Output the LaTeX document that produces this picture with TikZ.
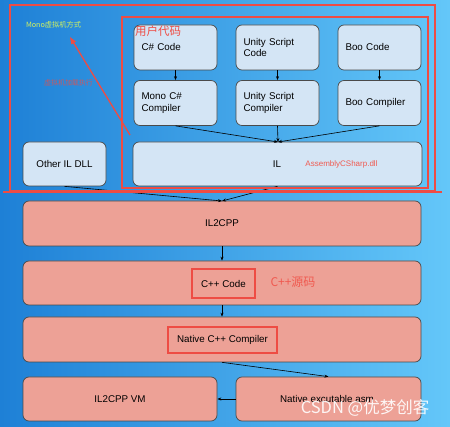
\documentclass[tikz,border=0pt]{standalone}
\usepackage{fontspec}
\setmainfont{Liberation Sans}
\newfontfamily\cjk{Noto Sans CJK SC}
\usetikzlibrary{arrows.meta}
\definecolor{bgleft}{HTML}{1E80D6}
\definecolor{bgright}{HTML}{64C7F9}
\definecolor{bluefill}{HTML}{D4E5F5}
\definecolor{pinkfill}{HTML}{EDA196}
\definecolor{boxline}{HTML}{4A4A4A}
\definecolor{redline}{HTML}{EE4C44}
\definecolor{redtext}{HTML}{F05A50}
\definecolor{monogreen}{HTML}{D2F25E}
\begin{document}
\begin{tikzpicture}[x=1pt,y=-1pt,
  box/.style={draw=boxline,line width=0.7pt,rounded corners=6pt,font=\fontsize{9.8}{11.5}\selectfont},
  bluebox/.style={box,fill=bluefill},
  pinkbox/.style={box,fill=pinkfill},
  smallbox/.style={bluebox,minimum width=83pt,minimum height=45pt,text width=68pt,inner xsep=7.5pt,align=left},
  redbox/.style={draw=redline,line width=1.8pt,inner sep=0pt,font=\fontsize{9.8}{11.5}\selectfont},
  arr/.style={-{Stealth[length=4pt,width=3pt]},line width=0.6pt,black},
  redframe/.style={draw=redline,line width=2.4pt}]
\shade[left color=bgleft,right color=bgright] (0,0) rectangle (450,427);
\useasboundingbox (0,0) rectangle (450,427);

% upper blue boxes
\node[smallbox] (cs) at (175.5,47.5) {C\# Code};
\node[smallbox] (mono) at (175.5,103) {Mono C\#\\Compiler};
\node[smallbox] (usc) at (277.5,47.5) {Unity Script\\Code};
\node[smallbox] (uscomp) at (277.5,103) {Unity Script\\Compiler};
\node[smallbox] (boo) at (379.5,47.5) {Boo Code};
\node[smallbox] (boocomp) at (379.5,103) {Boo Compiler};
\node[bluebox,minimum width=289pt,minimum height=44pt] (il) at (277.5,164) {};
\node[font=\fontsize{9.8}{11.5}\selectfont] (iltext) at (277,164) {IL};
\node[font=\fontsize{8}{9}\selectfont,text=redtext] (asm) at (341.5,164) {AssemblyCSharp.dll};
\node[bluebox,minimum width=83pt,minimum height=44pt] (other) at (64.5,164) {Other IL DLL};

% pink rows
\node[pinkbox,minimum width=398pt,minimum height=45pt] (il2cpp) at (222,223.5) {IL2CPP};
\node[pinkbox,minimum width=398pt,minimum height=44pt] (cpprow) at (222,283) {};
\node[redbox,minimum width=63pt,minimum height=29pt] (cppcode) at (223.5,283.5) {C++ Code};
\node[font=\cjk\fontsize{12}{14}\selectfont,text=redtext] (cppsrc) at (293,282) {C++源码};
\node[pinkbox,minimum width=398pt,minimum height=45pt] (nativerow) at (222,339.5) {};
\node[redbox,minimum width=109pt,minimum height=26pt] (nativecomp) at (222.5,340) {Native C++ Compiler};
\node[pinkbox,minimum width=194pt,minimum height=44pt] (vm) at (120,399) {IL2CPP VM};
\node[pinkbox,minimum width=185pt,minimum height=44pt] (nasm) at (328.5,399) {};
\node[font=\fontsize{9.8}{11.5}\selectfont] (nasmtext) at (327,399) {Native excutable asm};

% connectors
\draw[arr] (cs) -- (mono);
\draw[arr] (usc) -- (uscomp);
\draw[arr] (boo) -- (boocomp);
\coordinate (ilin) at (278,142);
\draw[arr] (mono.south) -- (ilin);
\draw[arr] (uscomp.south) -- (ilin);
\draw[arr] (boocomp.south) -- (ilin);
\coordinate (il2in) at (222,201);
\draw[arr] (other.south) -- (il2in);
\draw[arr] (il.south) -- (il2in);
\draw[arr] (il2cpp) -- (cpprow);
\draw[arr] (cpprow) -- (nativerow);
\draw[arr] (nativerow.south) -- (nasm.north);
\draw[arr] (nasm.west) -- (vm.east);

% red frames
\draw[redframe] (10,5) rectangle (435,191);
\draw[redframe] (3,192) -- (442,192);
\draw[redframe] (122,17) rectangle (428,188);

% annotations
\node[font=\cjk\fontsize{11.5}{13}\selectfont,text=redline,inner sep=0pt] (user) at (158,31) {用户代码};
\node[font=\cjk\fontsize{7.2}{8}\selectfont,text=monogreen,inner sep=0pt] (monovm) at (53.5,25) {Mono虚拟机方式};
\node[font=\cjk\fontsize{7}{8}\selectfont,text=redline,opacity=0.8,inner sep=0pt] (vmrun) at (68.5,83) {虚拟机加载执行};
\coordinate (atail) at (130,135);
\coordinate (ahead) at (70,37);
\draw[draw=redline,line width=1.3pt,-{Triangle[length=7pt,width=5pt]}] (atail) -- (ahead);

% watermark
\node[font=\cjk\fontsize{16.5}{18}\selectfont,text=white,opacity=0.9,inner sep=0pt] (wm) at (365,408) {CSDN @优梦创客};
\end{tikzpicture}
\end{document}
